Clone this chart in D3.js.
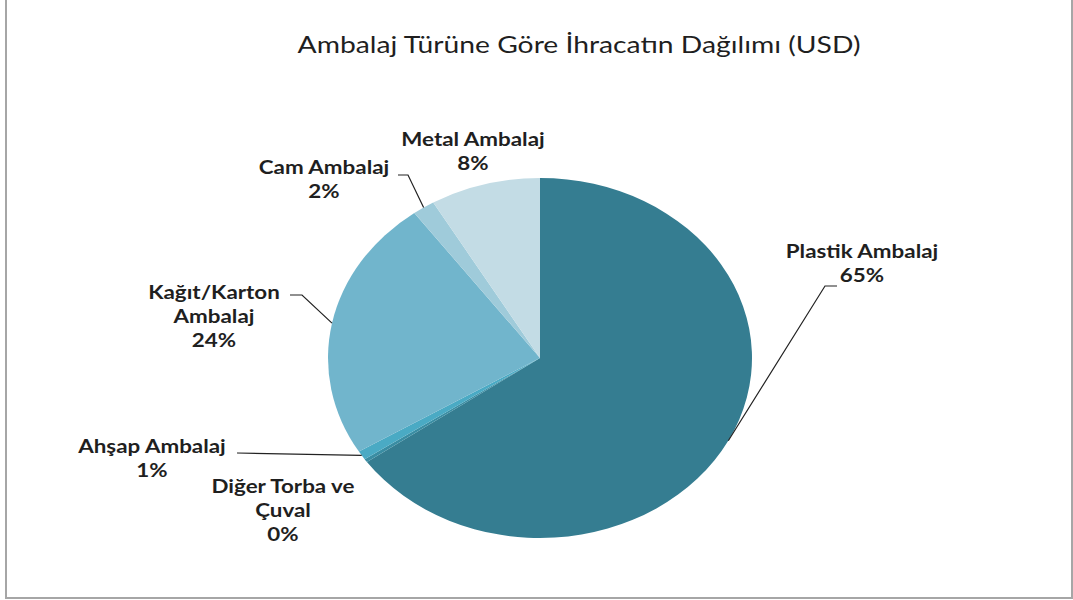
<!DOCTYPE html>
<html>
<head>
<meta charset="utf-8">
<script src="https://cdn.jsdelivr.net/npm/d3@7"></script>
<style>
  body { margin: 0; background: #fff; }
  svg { display: block; }
  text { font-family: Lato, "Open Sans", sans-serif; fill: #1f1f1f; }
</style>
</head>
<body>
<svg id="chart" width="1073" height="600"></svg>
<script>
const categories = ["Plastik Ambalaj", "Diğer Torba ve Çuval", "Ahşap Ambalaj", "Kağıt/Karton Ambalaj", "Cam Ambalaj", "Metal Ambalaj"];
const shares = [65.2, 0.3, 0.8, 23.6, 1.7, 8.4];
const percentLabels = ["65%", "0%", "1%", "24%", "2%", "8%"];
const nameLines = [
  ["Plastik Ambalaj"],
  ["Diğer Torba ve", "Çuval"],
  ["Ahşap Ambalaj"],
  ["Kağıt/Karton", "Ambalaj"],
  ["Cam Ambalaj"],
  ["Metal Ambalaj"]
];

const sliceColors = ['#357d91', '#3a8da3', '#4aaac4', '#71b5cc', '#9fcbda', '#c3dce5'];
const textColor = '#1f1f1f';
const lineColor = '#222';
const borderColor = '#a6a6a6';

// the original picture is stretched horizontally
const stretch = 212 / 180;

// layout of the labels (centre x, first baseline, leader elbow)
const labelPos = [
  { x: 862, y: 258, leader: [[837, 286], [825, 286]] },
  { x: 283, y: 493, leader: null },
  { x: 152, y: 453, leader: [[237, 453]] },
  { x: 214, y: 299, leader: [[290, 295], [302, 295]] },
  { x: 324, y: 174, leader: [[398, 175], [408, 175]] },
  { x: 473, y: 146, leader: null }
];

const svg = d3.select("#chart");

// frame
svg.append("path")
  .attr("d", `M6,0 V598 H1072 V0`)
  .attr("fill", "none")
  .attr("stroke", borderColor)
  .attr("stroke-width", 2);

svg.append("text")
  .attr("transform", `translate(579,53) scale(${stretch},1)`)
  .attr("text-anchor", "middle")
  .style("font-size", "24px")
  .text("Ambalaj Türüne Göre İhracatın Dağılımı (USD)");

const cx = 540, cy = 358, ry = 180, rx = ry * stretch;

const data = categories.map((c, i) => ({ name: c, value: shares[i], i }));
const pie = d3.pie().sort(null).value(d => d.value);
const arcs = pie(data);
const arc = d3.arc().innerRadius(0).outerRadius(ry);

const gPie = svg.append("g")
  .attr("transform", `translate(${cx},${cy}) scale(${stretch},1)`);

gPie.selectAll("path.slice")
  .data(arcs)
  .enter()
  .append("path")
  .attr("class", "slice")
  .attr("d", arc)
  .attr("fill", d => sliceColors[d.data.i]);

// leader lines
arcs.forEach((a, i) => {
  const lp = labelPos[i];
  if (!lp.leader) return;
  const mid = (a.startAngle + a.endAngle) / 2;
  const end = [cx + rx * Math.sin(mid), cy - ry * Math.cos(mid)];
  svg.append("path")
    .attr("d", d3.line()(lp.leader.concat([end])))
    .attr("fill", "none")
    .attr("stroke", lineColor)
    .attr("stroke-width", 1.2);
});

// labels
nameLines.forEach((lines, i) => {
  const lp = labelPos[i];
  const t = svg.append("text")
    .attr("transform", `translate(${lp.x},${lp.y}) scale(${stretch},1)`)
    .attr("text-anchor", "middle")
    .style("font-size", "19px")
    .style("font-weight", "bold")
    .style("fill", textColor);
  lines.concat([percentLabels[i]]).forEach((ln, j) => {
    t.append("tspan")
      .attr("x", 0)
      .attr("y", j * 24)
      .text(ln);
  });
});
</script>
</body>
</html>
